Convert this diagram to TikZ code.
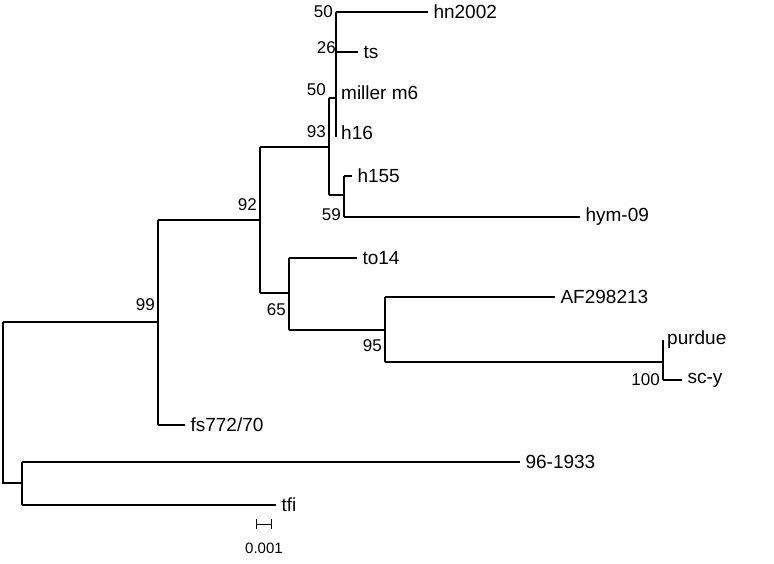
\documentclass[tikz,border=0pt]{standalone}
\usepackage{fontspec}
\setmainfont{Liberation Sans}
\begin{document}
\begin{tikzpicture}[x=1pt,y=-1pt,br/.style={line width=1.1pt},
 lab/.style={anchor=west,inner sep=5pt,font=\fontsize{19}{19}\selectfont},
 bs/.style={anchor=east,inner sep=1pt,font=\fontsize{17}{17}\selectfont}]
\useasboundingbox (0,0) rectangle (774,564);
\coordinate (n99) at (158,322);
\coordinate (nb) at (22,483);
% branches
\draw[br] (3,322) |- (n99);
\draw[br] (3,322) |- (nb);
\draw[br] (158,220) -- (158,425);
\draw[br] (158,220) -- (260,220);
\draw[br] (260,147) -- (260,293);
\draw[br] (260,147) -- (329,147);
\draw[br] (329,98) -- (329,195);
\draw[br] (329,98) -- (336,98);
\draw[br] (336,12) -- (336,137);
\draw[br] (329,195) -- (344,195);
\draw[br] (344,176) -- (344,217);
\draw[br] (260,293) -- (289,293);
\draw[br] (289,258) -- (289,330);
\draw[br] (289,330) -- (385,330);
\draw[br] (385,297) -- (385,362);
\draw[br] (385,362) -- (663,362);
\draw[br] (663,340) -- (663,380);
\draw[br] (22,462) -- (22,505);
% leaves
\draw[br] (336,12) -- (428,12) node[lab] (hn) {hn2002};
\draw[br] (336,52) -- (358,52) node[lab] (ts) {ts};
\node[lab] (mm) at (336,93) {miller m6};
\node[lab] (h16) at (336,133) {h16};
\draw[br] (344,176) -- (352,176) node[lab] (h155) {h155};
\draw[br] (344,217) -- (580,217) node[lab] (hym) {hym-09};
\draw[br] (289,258) -- (357,258) node[lab] (to14) {to14};
\draw[br] (385,297) -- (555,297) node[lab] (af) {AF298213};
\node[lab] (pu) at (662,340) {purdue};
\draw[br] (663,380) -- (682,380) node[lab] (sc) {sc-y};
\draw[br] (158,425) -- (185,425) node[lab] (fs) {fs772/70};
\draw[br] (22,462) -- (520,462) node[lab] (x96) {96-1933};
\draw[br] (22,505) -- (276,505) node[lab] (tfi) {tfi};
% bootstrap values
\node[bs] at (334,12) {50};
\node[bs] at (337,48) {26};
\node[bs] at (327,90) {50};
\node[bs] at (327,132) {93};
\node[bs] at (342,215) {59};
\node[bs] at (258,205) {92};
\node[bs] at (156,305) {99};
\node[bs] at (287,310) {65};
\node[bs] at (383,346) {95};
\node[bs] at (661,380) {100};
% scale bar
\draw[line width=0.9pt] (256,519) -- (256,529) (256,524) -- (271,524) (271,519) -- (271,529);
\node[font=\fontsize{15}{15}\selectfont,inner sep=1pt] (sb) at (264,548) {0.001};
\end{tikzpicture}
\end{document}
